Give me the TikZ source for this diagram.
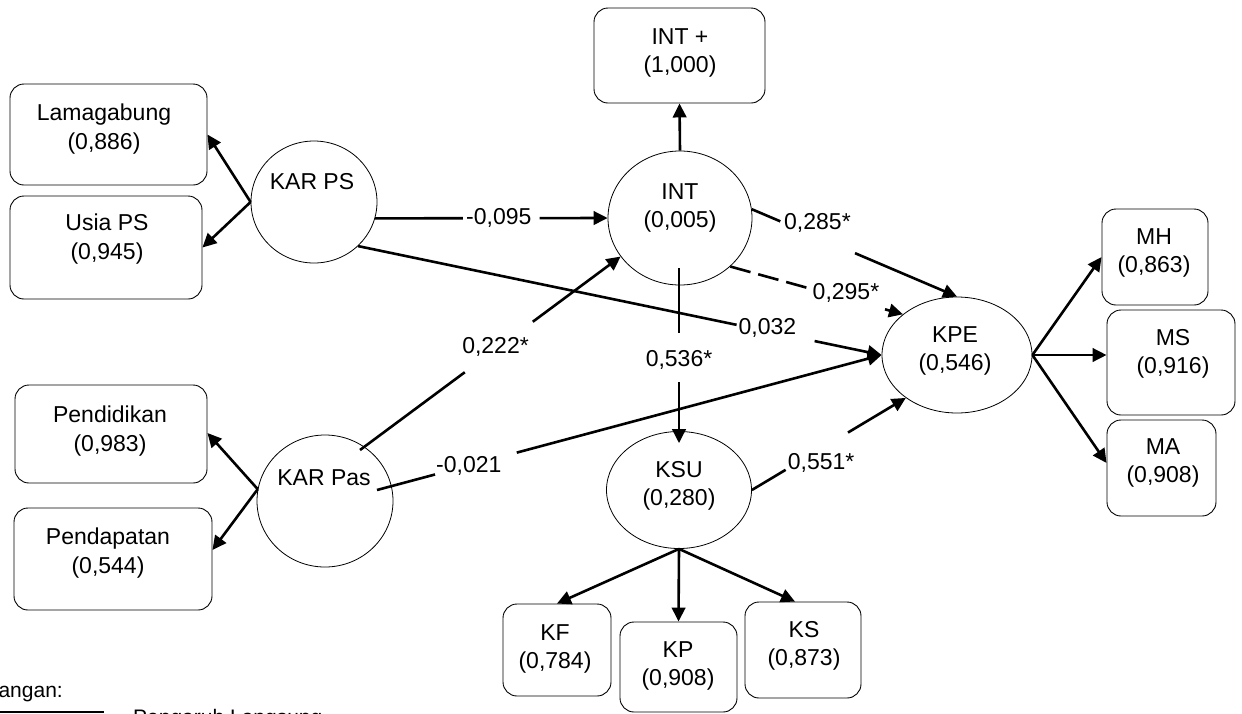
\documentclass[tikz,border=0pt]{standalone}
\usepackage{fontspec}
\setmainfont{Liberation Sans}
\usetikzlibrary{arrows.meta,shapes.geometric}
\begin{document}
\begin{tikzpicture}[x=1pt,y=-1pt,
  box/.style={draw, rounded corners=14pt, line width=0.9pt, inner sep=0pt},
  lv/.style={draw, ellipse, line width=0.8pt, inner sep=0pt},
  txt/.style={font=\fontsize{23}{28.5}\selectfont, align=center, inner sep=0pt},
  lbl/.style={font=\fontsize{23}{28.5}\selectfont, inner sep=0pt},
  legtxt/.style={font=\fontsize{21}{25}\selectfont, inner sep=0pt},
  conn/.style={line width=2.6pt},
  arr/.style={line width=2.6pt, -{Triangle[length=14pt,width=13.5pt]}},
  dsh/.style={line width=2.6pt, dash pattern=on 21pt off 8pt},
]
\path[use as bounding box] (0,0) rectangle (1242,713);
\clip (0,0) rectangle (1242,713);

% ---------- indicator boxes ----------
\node[box, minimum width=197pt, minimum height=101pt] (lam) at (108.5,134.5) {};
\node[box, minimum width=192pt, minimum height=103pt] (usia) at (106,247.5) {};
\node[box, minimum width=192pt, minimum height=98pt]  (pend) at (111,434) {};
\node[box, minimum width=198pt, minimum height=102pt] (pdp) at (113,559) {};
\node[box, minimum width=171pt, minimum height=95pt]  (intp) at (679.5,55.5) {};
\node[box, minimum width=106pt, minimum height=96pt]  (mh) at (1155,257) {};
\node[box, minimum width=128pt, minimum height=105pt] (ms) at (1171,362.5) {};
\node[box, minimum width=109pt, minimum height=96pt]  (ma) at (1161.5,468) {};
\node[box, minimum width=108pt, minimum height=92pt]  (kf) at (557,650) {};
\node[box, minimum width=117pt, minimum height=90pt]  (kp) at (678.5,667) {};
\node[box, minimum width=116pt, minimum height=96pt]  (ks) at (803,650) {};

\node[txt] (lamT)  at (104,129)  {Lamagabung\\(0,886)};
\node[txt] (usiaT) at (107,239)  {Usia PS\\(0,945)};
\node[txt] (pendT) at (110,431)  {Pendidikan\\(0,983)};
\node[txt] (pdpT)  at (108,553)  {Pendapatan\\(0,544)};
\node[txt] (intpT) at (680,53)   {INT +\\(1,000)};
\node[txt] (mhT)   at (1154,253) {MH\\(0,863)};
\node[txt] (msT)   at (1173,354) {MS\\(0,916)};
\node[txt] (maT)   at (1163,463) {MA\\(0,908)};
\node[txt] (kfT)   at (555,649)  {KF\\(0,784)};
\node[txt] (kpT)   at (678,666)  {KP\\(0,908)};
\node[txt] (ksT)   at (804,646)  {KS\\(0,873)};

% ---------- latent variables ----------
\node[lv, minimum width=126pt, minimum height=122pt] (kps) at (314,202) {};
\node[lv, minimum width=136pt, minimum height=132pt] (kpa) at (325,501) {};
\node[lv, minimum width=144pt, minimum height=134pt] (int) at (680,218) {};
\node[lv, minimum width=145pt, minimum height=117pt] (ksu) at (679,490) {};
\node[lv, minimum width=150pt, minimum height=116pt] (kpe) at (957,355) {};

\node[txt] (kpsT) at (312,182) {KAR PS};
\node[txt] (kpaT) at (324,478) {KAR Pas};
\node[txt] (intT) at (680,208) {INT\\(0,005)};
\node[txt] (ksuT) at (679,486) {KSU\\(0,280)};
\node[txt] (kpeT) at (955,351) {KPE\\(0,546)};

% ---------- measurement arrows ----------
\draw[arr] (kps.west) -- (lam.east);
\draw[arr] (kps.west) -- (usia.east);
\draw[arr] (kpa.170) -- ([yshift=9pt]pdp.east);
\draw[arr] (kpa.170) -- ([yshift=1pt]pend.east);
\draw[arr] (int.north) -- (intp.south);
\draw[arr] (kpe.east) -- (mh.west);
\draw[arr] (kpe.east) -- (kpe.east -| ms.west);
\draw[arr] (kpe.east) -- ([yshift=5pt]ma.west);
\draw[arr] (ksu.south) -- (kf.north);
\draw[arr] (ksu.south) -- (kp.north);
\draw[arr] (ksu.south) -- ([xshift=-8pt]ks.north);

% ---------- structural paths ----------
\coordinate (kpaA) at (360,450);
\coordinate (kpaB) at (377,490);
\coordinate (intA) at (679,268);

% KAR PS -> INT
\path (kps.-15) -- coordinate[pos=0.378] (a1) coordinate[pos=0.708] (a2)
      node[lbl, pos=0.532] (l095) {-0,095} (int.west);
\draw[conn] (kps.-15) -- (a1);
\draw[arr] (a2) -- (int.west);

% KAR PS -> KPE
\path (kps.-45) -- coordinate[pos=0.723] (b1) coordinate[pos=0.872] (b2)
      node[lbl, pos=0.782, yshift=3pt] (l032) {0,032} (kpe.west);
\draw[conn] (kps.-45) -- (b1);
\draw[arr] (b2) -- (kpe.west);

% KAR Pas -> KPE
\path (kpaB) -- coordinate[pos=0.115] (c1) coordinate[pos=0.277] (c2)
      node[lbl, pos=0.182, yshift=-1pt] (l021) {-0,021} (kpe.west);
\draw[conn] (kpaB) -- (c1);
\draw[arr] (c2) -- (kpe.west);

% KAR Pas -> INT
\path (kpaA) -- coordinate[pos=0.402] (d1) coordinate[pos=0.663] (d2)
      node[lbl, pos=0.52, yshift=2pt] (l222) {0,222*} (int.213);
\draw[conn] (kpaA) -- (d1);
\draw[arr] (d2) -- (int.213);

% INT -> KPE (direct)
\path (int.7) -- coordinate[pos=0.139] (e1) coordinate[pos=0.503] (e2)
      node[lbl, pos=0.32, yshift=14pt] (l285) {0,285*} (kpe.north);
\draw[conn] (int.7) -- (e1);
\draw[arr] (e2) -- (kpe.north);

% INT -> KPE (dashed)
\path (int.-44) -- coordinate[pos=0.445] (f1) coordinate[pos=0.896] (f2)
      node[lbl, pos=0.67, yshift=6pt] (l295) {0,295*} (kpe.143);
\draw[dsh] (int.-44) -- (f1);
\draw[arr] (f2) -- (kpe.143);

% INT -> KSU
\path (intA) -- coordinate[pos=0.369] (g1) coordinate[pos=0.653] (g2)
      node[lbl, pos=0.523] (l536) {0,536*} ([yshift=-12pt]ksu.north);
\draw[conn] (intA) -- (g1);
\draw[arr] (g2) -- ([yshift=-12pt]ksu.north);

% KSU -> KPE
\path (ksu.east) -- coordinate[pos=0.219] (h1) coordinate[pos=0.624] (h2)
      node[lbl, pos=0.45, yshift=-14pt] (l551) {0,551*} (kpe.220);
\draw[conn] (ksu.east) -- (h1);
\draw[arr] (h2) -- (kpe.220);

% ---------- legend (cut by the picture's lower edge, as in the reference) ----------
\node[legtxt, anchor=base east] (ket) at (63,697) {Keterangan:};
\coordinate (lg1) at (0,712);
\coordinate (lg2) at (104,712);
\draw[line width=1.6pt] (lg1) -- (lg2);
\node[legtxt, anchor=base west] (pl) at (133,724) {Pengaruh Langsung};
\end{tikzpicture}
\end{document}
